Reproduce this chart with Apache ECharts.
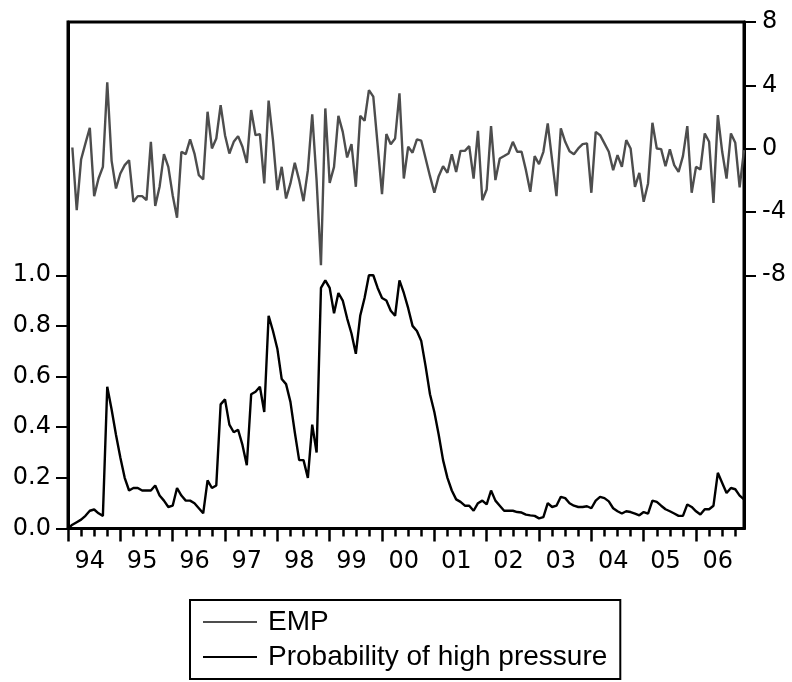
<!DOCTYPE html>
<html>
<head>
<meta charset="utf-8">
<script src="https://cdn.jsdelivr.net/npm/echarts@6/dist/echarts.min.js"></script>
<style>
  html, body { margin: 0; padding: 0; background: #fff; }
  #chart { width: 792px; height: 682px; }
</style>
</head>
<body>
<div id="chart"></div>
<script>
// monthly observations, 1994M01 - 2006M12
const years = ['94', '95', '96', '97', '98', '99', '00', '01', '02', '03', '04', '05', '06']

// exchange market pressure index (right axis), starts in 1994M02
const emp = [
  null, 0.07, -3.89, -0.69, 0.33, 1.32, -3.0, -1.89, -1.15, 4.19, -0.77, -2.52,
  -1.57, -1.04, -0.73, -3.36, -3.0, -3.0, -3.26, 0.43, -3.62, -2.41, -0.35, -1.15,
  -2.94, -4.37, -0.2, -0.35, 0.58, -0.31, -1.68, -1.95, 2.33, 0.01, 0.64, 2.75,
  0.85, -0.31, 0.43, 0.79, 0.12, -0.9, 2.44, 0.85, 0.92, -2.2, 3.03, 0.54,
  -2.62, -1.15, -3.15, -2.2, -0.9, -1.99, -3.32, -1.36, 2.16, -2.0, -7.37, 2.54,
  -2.16, -1.15, 2.07, 1.06, -0.56, 0.28, -2.41, 2.07, 1.76, 3.7, 3.28, 0.22,
  -2.88, 0.92, 0.28, 0.64, 3.49, -1.89, 0.12, -0.26, 0.58, 0.5, -0.62, -1.74,
  -2.79, -1.74, -1.11, -1.53, -0.35, -1.47, -0.14, -0.14, 0.16, -1.89, 1.13, -3.26,
  -2.58, 1.42, -1.99, -0.62, -0.47, -0.31, 0.43, -0.2, -0.2, -1.36, -2.73, -0.47,
  -0.98, -0.2, 1.59, -0.73, -3.0, 1.28, 0.43, -0.16, -0.35, 0.01, 0.28, 0.33,
  -2.79, 1.06, 0.85, 0.33, -0.2, -1.36, -0.41, -1.15, 0.54, 0.01, -2.41, -1.53,
  -3.36, -2.2, 1.63, 0.01, -0.03, -1.11, -0.05, -1.04, -1.47, -0.47, 1.42, -2.79,
  -1.15, -1.32, 0.96, 0.43, -3.43, 2.12, -0.2, -1.89, 0.96, 0.37, -2.45, -0.1
]

// probability of the high pressure regime (left axis)
const prob = [
  0.0, 0.015, 0.025, 0.035, 0.05, 0.07, 0.075, 0.06, 0.05, 0.56, 0.47, 0.37,
  0.28, 0.2, 0.15, 0.16, 0.16, 0.15, 0.15, 0.15, 0.17, 0.13, 0.11, 0.085,
  0.09, 0.16, 0.13, 0.11, 0.11, 0.1, 0.08, 0.06, 0.19, 0.16, 0.17, 0.49,
  0.51, 0.41, 0.38, 0.39, 0.33, 0.25, 0.53, 0.54, 0.56, 0.46, 0.84, 0.78,
  0.71, 0.59, 0.57, 0.5, 0.38, 0.27, 0.27, 0.2, 0.41, 0.3, 0.95, 0.98,
  0.95, 0.85, 0.93, 0.9, 0.83, 0.77, 0.69, 0.84, 0.91, 1.0, 1.0, 0.95,
  0.91, 0.9, 0.86, 0.84, 0.98, 0.93, 0.87, 0.8, 0.78, 0.74, 0.64, 0.53,
  0.46, 0.37, 0.27, 0.2, 0.15, 0.115, 0.105, 0.09, 0.09, 0.07, 0.1, 0.11,
  0.095, 0.15, 0.11, 0.09, 0.07, 0.07, 0.07, 0.065, 0.063, 0.055, 0.052, 0.05,
  0.04, 0.045, 0.1, 0.085, 0.09, 0.125, 0.12, 0.1, 0.09, 0.085, 0.085, 0.088,
  0.08, 0.11, 0.125, 0.12, 0.107, 0.08, 0.068, 0.059, 0.068, 0.065, 0.059, 0.052,
  0.065, 0.059, 0.11, 0.105, 0.09, 0.076, 0.068, 0.059, 0.05, 0.05, 0.095, 0.085,
  0.068, 0.055, 0.076, 0.076, 0.09, 0.22, 0.18, 0.14, 0.16, 0.155, 0.13, 0.115
]

const leftTicks = [0, 0.2, 0.4, 0.6, 0.8, 1.0]
const rightTicks = [-8, -4, 0, 4, 8]

let months = []
years.forEach((y) => {
  for (let m = 1; m <= 12; m++) {
    months.push(y + '-' + (m < 10 ? '0' + m : m))
  }
})

const tickFont = {
  color: '#000',
  fontFamily: 'DejaVu Sans',
  fontSize: 24,
}

let myChart = echarts.init(document.getElementById('chart'), null, { renderer: 'canvas' })
myChart.setOption({
  animation: false,
  backgroundColor: '#fff',
  grid: {
    left: 68,
    right: 48,
    top: 22,
    bottom: 153.5,
    show: true,
    borderColor: '#000',
    borderWidth: 3,
    containLabel: false,
  },
  legend: {
    orient: 'vertical',
    left: 190,
    top: 600,
    padding: [8, 13, 8, 13],
    itemGap: 7,
    itemWidth: 54,
    itemHeight: 2,
    icon: 'rect',
    borderColor: '#000',
    borderWidth: 2,
    data: ['EMP', 'Probability of high pressure'],
    textStyle: {
      color: '#000',
      fontFamily: 'Liberation Sans',
      fontSize: 28,
      lineHeight: 28,
      padding: [0, 0, 0, 6],
    },
  },
  xAxis: [
    {
      type: 'category',
      data: months,
      boundaryGap: false,
      position: 'bottom',
      axisLine: { show: true, onZero: false, lineStyle: { color: '#000', width: 3 } },
      axisTick: {
        show: true,
        length: 8,
        interval: function (idx) {
          return idx % 3 === 0
        },
        lineStyle: { color: '#000', width: 2.5 },
      },
      axisLabel: {
        ...tickFont,
        margin: 21,
        interval: function (idx) {
          return idx % 12 === 5
        },
        formatter: function (val) {
          return val.slice(0, 2)
        },
      },
      splitLine: { show: false },
    },
    {
      // year boundaries get the longer ticks
      type: 'category',
      data: months,
      boundaryGap: false,
      position: 'bottom',
      axisLine: { show: false, onZero: false },
      axisTick: {
        show: true,
        length: 13,
        interval: function (idx) {
          return idx % 12 === 0
        },
        lineStyle: { color: '#000', width: 2.5 },
      },
      axisLabel: { show: false },
      splitLine: { show: false },
    },
  ],
  yAxis: [
    {
      type: 'value',
      position: 'left',
      min: 0,
      max: 2,
      axisLine: { show: true, lineStyle: { color: '#000', width: 3 } },
      axisTick: {
        show: true,
        length: 12,
        customValues: leftTicks,
        lineStyle: { color: '#000', width: 2 },
      },
      axisLabel: {
        ...tickFont,
        margin: 17,
        customValues: leftTicks,
        formatter: function (v) {
          return v.toFixed(1)
        },
      },
      splitLine: { show: false },
    },
    {
      type: 'value',
      position: 'right',
      min: -24,
      max: 8,
      axisLine: { show: true, lineStyle: { color: '#000', width: 3 } },
      axisTick: {
        show: true,
        length: 12,
        customValues: rightTicks,
        lineStyle: { color: '#000', width: 2 },
      },
      axisLabel: {
        ...tickFont,
        margin: 18,
        customValues: rightTicks,
      },
      splitLine: { show: false },
    },
  ],
  series: [
    {
      name: 'EMP',
      type: 'line',
      xAxisIndex: 0,
      yAxisIndex: 1,
      data: emp,
      symbol: 'none',
      color: '#4d4d4d',
      lineStyle: { color: '#4d4d4d', width: 2.4 },
    },
    {
      name: 'Probability of high pressure',
      type: 'line',
      xAxisIndex: 0,
      yAxisIndex: 0,
      data: prob,
      symbol: 'none',
      color: '#000',
      lineStyle: { color: '#000', width: 2.4 },
    },
  ],
})
</script>
</body>
</html>
